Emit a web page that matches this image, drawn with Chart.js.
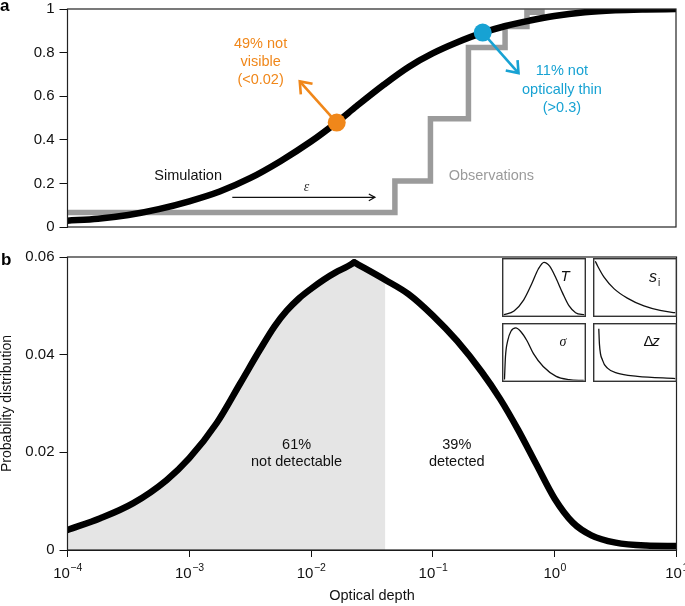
<!DOCTYPE html>
<html>
<head>
<meta charset="utf-8">
<script src="https://cdn.jsdelivr.net/npm/chart.js@4.4.0/dist/chart.umd.min.js"></script>
<style>
  html, body { margin: 0; padding: 0; background: #fff; }
  #wrap { position: relative; width: 685px; height: 606px; overflow: hidden; }
  canvas { position: absolute; }
</style>
</head>
<body>
<div id="wrap">
  <canvas id="panelA" width="685" height="240" style="left:0;top:0"></canvas>
  <canvas id="panelB" width="685" height="366" style="left:0;top:240px"></canvas>
  <canvas id="insetT" width="84" height="59" style="left:502px;top:258px"></canvas>
  <canvas id="insetS" width="84" height="59" style="left:593px;top:258px"></canvas>
  <canvas id="insetSig" width="84" height="59" style="left:502px;top:323px"></canvas>
  <canvas id="insetDz" width="84" height="59" style="left:593px;top:323px"></canvas>
</div>
<script>
// panel a: cumulative fraction against optical depth
var simDepth = [1e-4, 1.78e-4, 3.16e-4, 5.62e-4, 1e-3, 1.78e-3, 3.16e-3, 5.62e-3, 0.01, 0.0162, 0.0238, 0.0398, 0.0631, 0.1, 0.158, 0.251, 0.398, 0.631, 1, 1.78, 3.16, 5.62, 10];
var simFrac = [0.029, 0.038, 0.055, 0.082, 0.118, 0.163, 0.224, 0.302, 0.392, 0.479, 0.555, 0.653, 0.733, 0.796, 0.846, 0.889, 0.922, 0.947, 0.968, 0.985, 0.994, 0.998, 1.0];

var obsDepth = [1e-4, 0.049, 0.096, 0.197, 0.394, 0.596, 0.834];
var obsFrac = [0.067, 0.211, 0.496, 0.823, 0.92, 0.985, 0.985];

// thresholds marked on the simulation curve
var markDepth = [0.0163, 0.258];
var markFrac = [0.479, 0.892];
var markColors = ['#f0871a', '#17a2d3'];

// panel b: probability distribution
var pdfDepth = [1e-4, 1.86e-4, 3.47e-4, 6.5e-4, 1e-3, 1.68e-3, 2.63e-3, 3.8e-3, 5.01e-3, 6.31e-3, 7.94e-3, 0.01, 0.0126, 0.0158, 0.02, 0.0226, 0.0407, 0.0631, 0.1, 0.158, 0.251, 0.355, 0.501, 0.708, 1, 1.41, 2.0, 3.16, 5.62, 10];
var pdfValue = [0.0041, 0.0065, 0.0096, 0.0143, 0.0188, 0.026, 0.0342, 0.041, 0.0458, 0.049, 0.0515, 0.0535, 0.0553, 0.0568, 0.0581, 0.0589, 0.0553, 0.0524, 0.048, 0.0428, 0.0365, 0.031, 0.0246, 0.0175, 0.0105, 0.0056, 0.003, 0.0015, 0.0009, 0.0008];
var detectLimit = 0.0407;

var decades = [1e-4, 1e-3, 1e-2, 1e-1, 1, 10];
var decadeExp = ['\u22124', '\u22123', '\u22122', '\u22121', '0', '1'];

// insets (shape only, normalised)
var tempX = [0, 0.13, 0.25, 0.35, 0.43, 0.5, 0.57, 0.65, 0.73, 0.81, 0.89, 1];
var tempY = [0.01, 0.08, 0.28, 0.57, 0.83, 0.95, 0.88, 0.66, 0.4, 0.17, 0.05, 0.01];
var siX = [0.01, 0.04, 0.12, 0.24, 0.405, 0.61, 0.81, 1];
var siY = [0.97, 0.88, 0.68, 0.48, 0.31, 0.17, 0.09, 0.05];
var sigX = [0.012, 0.024, 0.052, 0.092, 0.152, 0.21, 0.29, 0.37, 0.49, 0.65, 0.81, 0.99];
var sigY = [0.017, 0.42, 0.71, 0.88, 0.94, 0.88, 0.71, 0.48, 0.25, 0.075, 0.017, 0.0];
var dzX = [0.053, 0.061, 0.1, 0.16, 0.28, 0.53, 1];
var dzY = [0.925, 0.65, 0.36, 0.22, 0.13, 0.075, 0.035];

Chart.defaults.font.family = '"Liberation Sans", Arial, sans-serif';
Chart.defaults.color = '#111';

function pts(xs, ys) {
	return xs.map(function (x, i) { return { x: x, y: ys[i] }; });
}

function fmt(v) {
	return String(Math.round(v * 100) / 100);
}

function at(chart, x, y) {
	return [chart.scales.x.getPixelForValue(x), chart.scales.y.getPixelForValue(y)];
}

function arrow(ctx, x0, y0, x1, y1, head, spread, color, width) {
	var ang = Math.atan2(y1 - y0, x1 - x0);
	ctx.save();
	ctx.strokeStyle = color;
	ctx.lineWidth = width;
	ctx.beginPath();
	ctx.moveTo(x0, y0);
	ctx.lineTo(x1, y1);
	ctx.stroke();
	ctx.beginPath();
	ctx.moveTo(x1 - head * Math.cos(ang - spread), y1 - head * Math.sin(ang - spread));
	ctx.lineTo(x1, y1);
	ctx.lineTo(x1 - head * Math.cos(ang + spread), y1 - head * Math.sin(ang + spread));
	ctx.stroke();
	ctx.restore();
}

function lines(ctx, chart, x, y, list, color, step) {
	var p = at(chart, x, y);
	ctx.save();
	ctx.fillStyle = color;
	ctx.font = '14.5px "Liberation Sans"';
	ctx.textAlign = 'center';
	ctx.textBaseline = 'middle';
	list.forEach(function (t, i) { ctx.fillText(t, p[0], p[1] + i * step); });
	ctx.restore();
}

var framePlugin = {
	id: 'frame',
	afterDraw: function (chart) {
		var a = chart.chartArea, ctx = chart.ctx;
		ctx.save();
		ctx.strokeStyle = '#222';
		ctx.lineWidth = 1.2;
		ctx.strokeRect(a.left, a.top, a.right - a.left, a.bottom - a.top);
		ctx.restore();
	}
};

function yAxisFit(scale) {
	scale.width = 67.5;
	scale.paddingTop = 0;
	scale.paddingBottom = 0;
}

var notesA = {
	id: 'notesA',
	beforeDatasetDraw: function (chart, args) {
		if (args.index !== 2) return;
		var ctx = chart.ctx;
		var o0 = at(chart, markDepth[0], markFrac[0]), o1 = at(chart, 0.0081, 0.668);
		arrow(ctx, o0[0], o0[1], o1[0], o1[1], 13, 0.65, markColors[0], 2.6);
		var c0 = at(chart, markDepth[1], markFrac[1]), c1 = at(chart, 0.508, 0.706);
		arrow(ctx, c0[0], c0[1], c1[0], c1[1], 13, 0.65, markColors[1], 2.6);
	},
	afterDraw: function (chart) {
		var ctx = chart.ctx;
		var e0 = at(chart, 2.26e-3, 0.136), e1 = at(chart, 0.0336, 0.136);
		arrow(ctx, e0[0], e0[1], e1[0], e1[1], 7, 0.5, '#111', 1.2);
		var ep = at(chart, 9.2e-3, 0.18);
		ctx.save();
		ctx.fillStyle = '#333';
		ctx.font = 'italic 14px "Liberation Serif"';
		ctx.textAlign = 'center';
		ctx.textBaseline = 'middle';
		ctx.fillText('\u03b5', ep[0], ep[1]);
		ctx.font = 'bold 17px "Liberation Sans"';
		ctx.fillStyle = '#000';
		ctx.textAlign = 'left';
		ctx.textBaseline = 'alphabetic';
		ctx.fillText('a', 0, 11);
		ctx.restore();
		lines(ctx, chart, 9.8e-4, 0.232, ['Simulation'], '#111', 18);
		lines(ctx, chart, 0.304, 0.232, ['Observations'], '#9b9b9b', 18);
		lines(ctx, chart, 0.00386, 0.841, ['49% not', 'visible', '(<0.02)'], markColors[0], 18);
		lines(ctx, chart, 1.155, 0.714, ['11% not', 'optically thin', '(>0.3)'], markColors[1], 18.3);
	}
};

new Chart(document.getElementById('panelA'), {
	type: 'line',
	data: {
		datasets: [
			{
				label: 'Simulation',
				data: pts(simDepth, simFrac),
				borderColor: '#000',
				borderWidth: 6.5,
				pointRadius: 0,
				cubicInterpolationMode: 'monotone',
				clip: 0,
				order: 1
			},
			{
				label: 'Observations',
				data: pts(obsDepth, obsFrac),
				borderColor: '#9b9b9b',
				borderWidth: 5.5,
				pointRadius: 0,
				stepped: true,
				clip: 0,
				order: 2
			},
			{
				label: 'Thresholds',
				data: pts(markDepth, markFrac),
				showLine: false,
				pointRadius: 9,
				pointBorderWidth: 0,
				pointBackgroundColor: markColors,
				pointBorderColor: markColors,
				clip: false,
				order: 0
			}
		]
	},
	options: {
		responsive: false,
		animation: false,
		layout: { padding: { top: 7, right: 8.5, bottom: 13, left: 0 } },
		plugins: { legend: { display: false }, tooltip: { enabled: false } },
		scales: {
			x: { type: 'logarithmic', min: 1e-4, max: 10, display: false },
			y: {
				min: 0,
				max: 1,
				ticks: { stepSize: 0.2, callback: fmt, font: { size: 15 }, padding: 5, color: '#111' },
				grid: { drawOnChartArea: false, tickLength: 8, color: '#111' },
				border: { color: '#111' },
				afterFit: yAxisFit
			}
		}
	},
	plugins: [framePlugin, notesA]
});

var notesB = {
	id: 'notesB',
	afterDraw: function (chart) {
		var ctx = chart.ctx, xs = chart.scales.x, a = chart.chartArea;
		ctx.save();
		ctx.fillStyle = '#111';
		ctx.textAlign = 'left';
		ctx.textBaseline = 'alphabetic';
		decades.forEach(function (v, i) {
			var x = xs.getPixelForValue(v);
			ctx.font = '15px "Liberation Sans"';
			var w1 = ctx.measureText('10').width;
			ctx.font = '10.5px "Liberation Sans"';
			var w2 = ctx.measureText(decadeExp[i]).width;
			var x0 = x - (w1 + w2) / 2;
			ctx.font = '15px "Liberation Sans"';
			ctx.fillText('10', x0, a.bottom + 28);
			ctx.font = '10.5px "Liberation Sans"';
			ctx.fillText(decadeExp[i], x0 + w1 + 0.5, a.bottom + 21);
		});
		ctx.fillStyle = '#000';
		ctx.font = 'bold 17px "Liberation Sans"';
		ctx.fillText('b', 1, 25);
		ctx.restore();
		lines(ctx, chart, 7.6e-3, 0.0215, ['61%', 'not detectable'], '#111', 17);
		lines(ctx, chart, 0.157, 0.0215, ['39%', 'detected'], '#111', 17);
	}
};

var peak = pdfValue.indexOf(Math.max.apply(null, pdfValue));
var shadeDepth = pdfDepth.filter(function (d) { return d <= detectLimit; });
var shadeValue = pdfValue.slice(0, shadeDepth.length);

new Chart(document.getElementById('panelB'), {
	type: 'line',
	data: {
		datasets: [
			{
				label: 'Rising',
				data: pts(pdfDepth.slice(0, peak + 1), pdfValue.slice(0, peak + 1)),
				borderColor: '#000',
				borderWidth: 6.5,
				borderCapStyle: 'round',
				pointRadius: 0,
				cubicInterpolationMode: 'monotone',
				clip: 0,
				order: 1
			},
			{
				label: 'Falling',
				data: pts(pdfDepth.slice(peak), pdfValue.slice(peak)),
				borderColor: '#000',
				borderWidth: 6.5,
				borderCapStyle: 'round',
				pointRadius: 0,
				cubicInterpolationMode: 'monotone',
				clip: 0,
				order: 1
			},
			{
				label: 'Not detectable',
				data: pts(shadeDepth, shadeValue),
				fill: 'origin',
				backgroundColor: '#e5e5e5',
				borderColor: 'rgba(0,0,0,0)',
				borderWidth: 0,
				pointRadius: 0,
				cubicInterpolationMode: 'monotone',
				clip: 0,
				order: 3
			}
		]
	},
	options: {
		responsive: false,
		animation: false,
		layout: { padding: { top: 17, right: 8.5, bottom: 0, left: 0 } },
		plugins: { legend: { display: false }, tooltip: { enabled: false } },
		scales: {
			x: {
				type: 'logarithmic',
				min: 1e-4,
				max: 10,
				afterBuildTicks: function (s) {
					s.ticks = decades.map(function (v) { return { value: v }; });
				},
				ticks: { callback: function () { return ''; }, autoSkip: false, maxRotation: 0 },
				grid: { drawOnChartArea: false, tickLength: 7, color: '#111' },
				border: { color: '#111' },
				title: { display: true, text: 'Optical depth', font: { size: 14.5 }, color: '#111', padding: { top: 0, bottom: 1 } },
				afterFit: function (s) {
					s.height = 56;
					s.paddingLeft = 0;
					s.paddingRight = 0;
				}
			},
			y: {
				min: 0,
				max: 0.06,
				ticks: { stepSize: 0.02, callback: fmt, font: { size: 15 }, padding: 5, color: '#111' },
				grid: { drawOnChartArea: false, tickLength: 8, color: '#111' },
				border: { color: '#111' },
				title: { display: true, text: 'Probability distribution', font: { size: 14, lineHeight: 1 }, color: '#111', padding: { top: 0, bottom: 0 } },
				afterFit: yAxisFit
			}
		}
	},
	plugins: [framePlugin, notesB]
});

var insetFrame = {
	id: 'insetFrame',
	beforeDraw: function (chart) {
		var ctx = chart.ctx;
		ctx.save();
		ctx.fillStyle = '#fff';
		ctx.fillRect(0, 0, chart.width, chart.height);
		ctx.restore();
	},
	afterDraw: function (chart) {
		var ctx = chart.ctx;
		ctx.save();
		ctx.strokeStyle = '#333';
		ctx.lineWidth = 1.4;
		ctx.strokeRect(0.7, 0.7, chart.width - 1.4, chart.height - 1.4);
		ctx.restore();
	}
};

function inset(id, xs, ys, label) {
	new Chart(document.getElementById(id), {
		type: 'line',
		data: {
			datasets: [{
				data: pts(xs, ys),
				borderColor: '#111',
				borderWidth: 1.3,
				pointRadius: 0,
				cubicInterpolationMode: 'monotone',
				clip: 0
			}]
		},
		options: {
			responsive: false,
			animation: false,
			layout: { padding: 1.5 },
			plugins: { legend: { display: false }, tooltip: { enabled: false } },
			scales: {
				x: { type: 'linear', min: 0, max: 1, display: false },
				y: { min: 0, max: 1, display: false }
			}
		},
		plugins: [insetFrame, {
			id: 'label',
			afterDraw: function (chart) {
				var ctx = chart.ctx;
				ctx.save();
				ctx.fillStyle = '#111';
				ctx.textAlign = 'center';
				ctx.textBaseline = 'middle';
				label(ctx);
				ctx.restore();
			}
		}]
	});
}

inset('insetT', tempX, tempY, function (ctx) {
	ctx.font = 'italic 15px "Liberation Sans"';
	ctx.fillText('T', 63, 19);
});
inset('insetS', siX, siY, function (ctx) {
	ctx.font = 'italic 16px "Liberation Sans"';
	ctx.fillText('s', 60, 20);
	ctx.font = '10px "Liberation Sans"';
	ctx.fillText('i', 66, 25.5);
});
inset('insetSig', sigX, sigY, function (ctx) {
	ctx.font = 'italic 14px "Liberation Serif"';
	ctx.fillText('\u03c3', 61, 19);
});
inset('insetDz', dzX, dzY, function (ctx) {
	ctx.font = '15px "Liberation Sans"';
	ctx.fillText('\u0394', 55.5, 19);
	ctx.font = 'italic 15px "Liberation Sans"';
	ctx.fillText('z', 63, 19);
});
</script>
</body>
</html>
